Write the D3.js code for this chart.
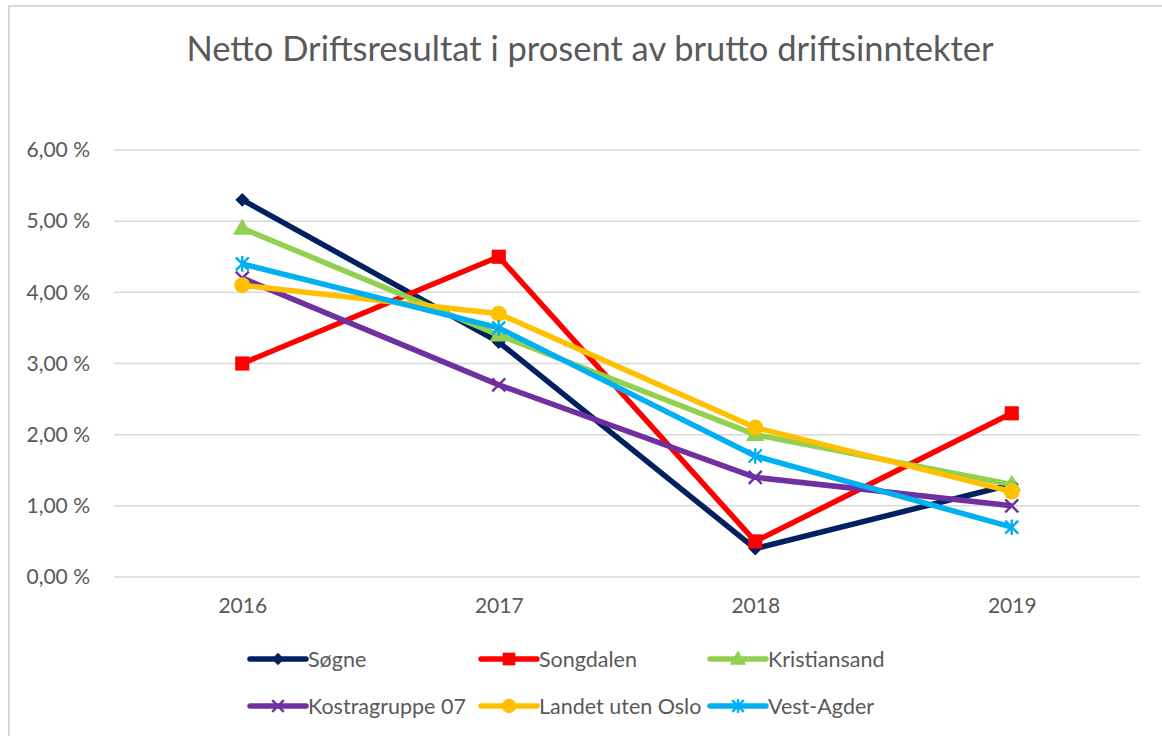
<!DOCTYPE html>
<html>
<head>
<meta charset="utf-8">
<script src="https://cdn.jsdelivr.net/npm/d3@7"></script>
<style>
  body { margin: 0; background: #fff; }
  text { font-family: Lato, "Open Sans", sans-serif; fill: #595959; }
</style>
</head>
<body>
<div id="chart"></div>
<script>
const years = ['2016', '2017', '2018', '2019'];
const yTicks = [0, 1, 2, 3, 4, 5, 6];

const sogne = [5.3, 3.3, 0.4, 1.3];
const songdalen = [3.0, 4.5, 0.5, 2.3];
const kristiansand = [4.9, 3.4, 2.0, 1.3];
const kostragruppe = [4.2, 2.7, 1.4, 1.0];
const landet = [4.1, 3.7, 2.1, 1.2];
const vestAgder = [4.4, 3.5, 1.7, 0.7];

const seriesNames = ['Søgne', 'Songdalen', 'Kristiansand', 'Kostragruppe 07', 'Landet uten Oslo', 'Vest-Agder'];
const seriesValues = [sogne, songdalen, kristiansand, kostragruppe, landet, vestAgder];
const colors = ['#002060', '#ff0000', '#92d050', '#7030a0', '#ffc000', '#00b0f0'];
const markers = ['diamond', 'square', 'triangle', 'x', 'circle', 'star'];

const width = 1162, height = 736;
const margin = { left: 114, right: 22, top: 150, bottom: 159 };

const svg = d3.select('#chart').append('svg')
    .attr('width', width)
    .attr('height', height);

// chart frame
svg.append('rect')
    .attr('x', 9).attr('y', 6)
    .attr('width', 1170).attr('height', 760)
    .attr('fill', 'none')
    .attr('stroke', '#d9d9d9')
    .attr('stroke-width', 2);

svg.append('text')
    .attr('x', 590).attr('y', 61)
    .attr('text-anchor', 'middle')
    .style('font-size', '34.5px')
    .text('Netto Driftsresultat i prosent av brutto driftsinntekter');

const x = d3.scalePoint()
    .domain(years)
    .range([margin.left, width - margin.right])
    .padding(0.5);

const y = d3.scaleLinear()
    .domain([0, 6])
    .range([height - margin.bottom, margin.top]);

// gridlines
svg.append('g')
    .selectAll('line')
    .data(yTicks)
    .join('line')
    .attr('x1', margin.left)
    .attr('x2', width - margin.right)
    .attr('y1', d => y(d))
    .attr('y2', d => y(d))
    .attr('stroke', '#d9d9d9')
    .attr('stroke-width', 1.5);

// y axis labels
const yAxis = svg.append('g')
    .attr('transform', `translate(${margin.left - 21},0)`)
    .call(d3.axisLeft(y).tickValues(yTicks).tickSize(0)
        .tickFormat(d => d3.format('.2f')(d).replace('.', ',') + ' %'));
yAxis.select('.domain').remove();
yAxis.selectAll('text').style('font-size', '21px').attr('fill', '#595959');

// x axis labels
const xAxis = svg.append('g')
    .attr('transform', `translate(0,${y(0) + 18})`)
    .call(d3.axisBottom(x).tickSize(0));
xAxis.select('.domain').remove();
xAxis.selectAll('text').style('font-size', '21px').attr('fill', '#595959');

function drawMarker(g, type, color, cx, cy, scale) {
    const s = scale || 1;
    if (type === 'diamond') {
        // rotated square, like Excel's diamond marker
        g.append('path').attr('d', d3.symbol(d3.symbolSquare, 95 * s)())
            .attr('transform', `translate(${cx},${cy}) rotate(45)`).attr('fill', color);
    } else if (type === 'square') {
        g.append('path').attr('d', d3.symbol(d3.symbolSquare, 200 * s)())
            .attr('transform', `translate(${cx},${cy})`).attr('fill', color);
    } else if (type === 'triangle') {
        g.append('path').attr('d', d3.symbol(d3.symbolTriangle, 150 * s)())
            .attr('transform', `translate(${cx},${cy + 1})`).attr('fill', color);
    } else if (type === 'circle') {
        g.append('path').attr('d', d3.symbol(d3.symbolCircle, 200 * s)())
            .attr('transform', `translate(${cx},${cy})`).attr('fill', color);
    } else {
        const r = 6.5 * Math.sqrt(s);
        const p = d3.path();
        p.moveTo(-r, -r); p.lineTo(r, r);
        p.moveTo(-r, r); p.lineTo(r, -r);
        if (type === 'star') { p.moveTo(0, -r * 1.2); p.lineTo(0, r * 1.2); }
        g.append('path').attr('d', p.toString())
            .attr('transform', `translate(${cx},${cy})`)
            .attr('fill', 'none').attr('stroke', color).attr('stroke-width', 2.4);
    }
}

const line = d3.line()
    .x((d, i) => x(years[i]))
    .y(d => y(d));

seriesValues.forEach((vals, k) => {
    const g = svg.append('g');
    g.append('path')
        .datum(vals)
        .attr('d', line)
        .attr('fill', 'none')
        .attr('stroke', colors[k])
        .attr('stroke-width', 5.5)
        .attr('stroke-linejoin', 'round');
    vals.forEach((v, i) => drawMarker(g, markers[k], colors[k], x(years[i]), y(v)));
});

// legend
const legendX = [250, 481, 710];
const legendY = [659, 706];
seriesNames.forEach((name, k) => {
    const lx = legendX[k % 3], ly = legendY[Math.floor(k / 3)];
    const g = svg.append('g');
    g.append('line')
        .attr('x1', lx).attr('x2', lx + 56)
        .attr('y1', ly).attr('y2', ly)
        .attr('stroke', colors[k])
        .attr('stroke-width', 5.5)
        .attr('stroke-linecap', 'round');
    drawMarker(g, markers[k], colors[k], lx + 28, ly, 0.8);
    g.append('text')
        .attr('x', lx + 58).attr('y', ly)
        .attr('dy', '0.35em')
        .style('font-size', '21.5px')
        .text(name);
});
</script>
</body>
</html>
